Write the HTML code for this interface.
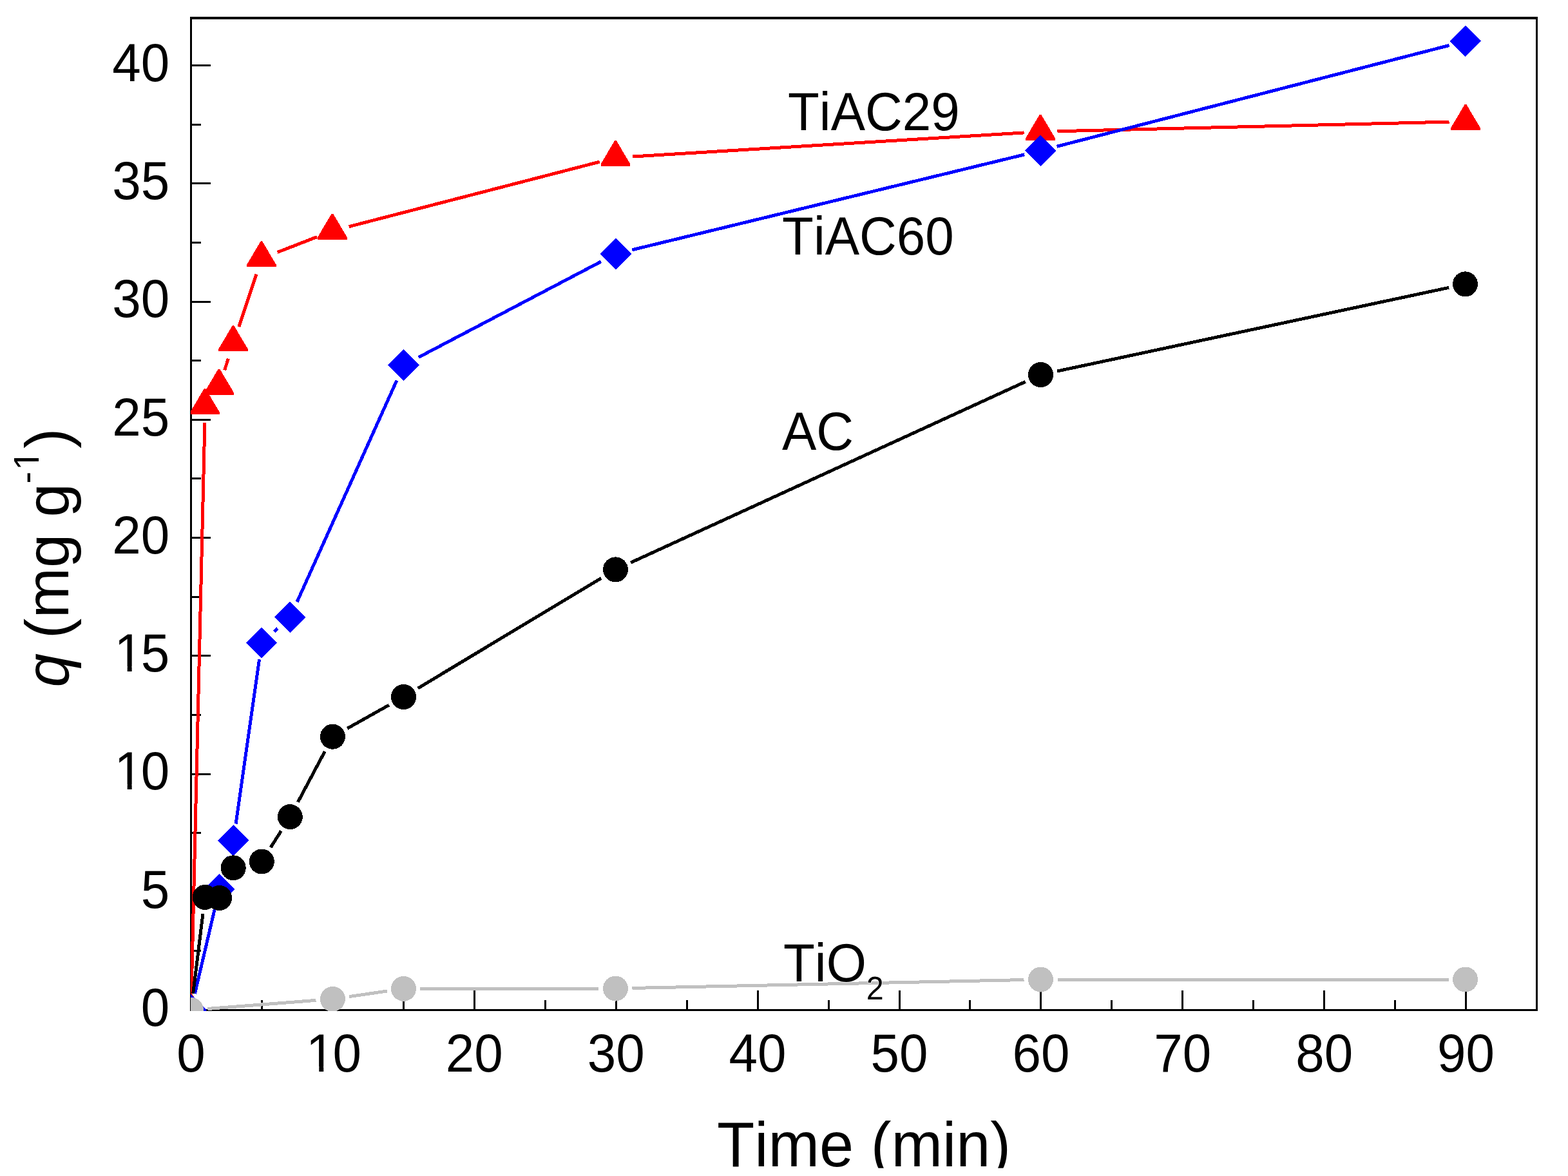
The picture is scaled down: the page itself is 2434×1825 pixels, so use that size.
<!DOCTYPE html>
<html><head><meta charset="utf-8"><title>q vs time</title>
<style>
html,body{margin:0;padding:0;background:#fff;}
body{width:2434px;height:1825px;overflow:hidden;}
svg{display:block;}
text{font-family:"Liberation Sans",Arial,sans-serif;fill:#000;font-kerning:none;}
</style></head>
<body>
<svg width="2434" height="1825" viewBox="0 0 2434 1825">
<defs>
<clipPath id="plot"><rect x="296" y="26" width="2091.55" height="1543"/></clipPath>
<clipPath id="xclip"><rect x="0" y="0" width="2434" height="1812.7"/></clipPath>
</defs>
<rect x="0" y="0" width="2434" height="1825" fill="#fff"/>
<g fill="#000" shape-rendering="crispEdges">
<rect x="295" y="26" width="3" height="1543"/><rect x="2384" y="26" width="3" height="1543"/>
<rect x="295" y="26" width="2092" height="4"/><rect x="295" y="1566" width="2092" height="3"/>
</g>
<g fill="none" stroke="#000" stroke-width="3" shape-rendering="crispEdges">
<path d="M296.5 1567.5H327M296.5 1475.88H312M296.5 1384.25H327M296.5 1292.62H312M296.5 1201H327M296.5 1109.38H312M296.5 1017.75H327M296.5 926.12H312M296.5 834.5H327M296.5 742.88H312M296.5 651.25H327M296.5 559.62H312M296.5 468H327M296.5 376.38H312M296.5 284.75H327M296.5 193.12H312M296.5 101.5H327M296.5 1567.5V1537M406.45 1567.5V1552M516.4 1567.5V1537M626.35 1567.5V1552M736.3 1567.5V1537M846.25 1567.5V1552M956.2 1567.5V1537M1066.15 1567.5V1552M1176.1 1567.5V1537M1286.05 1567.5V1552M1396 1567.5V1537M1505.95 1567.5V1552M1615.9 1567.5V1537M1725.85 1567.5V1552M1835.8 1567.5V1537M1945.75 1567.5V1552M2055.7 1567.5V1537M2165.65 1567.5V1552M2275.6 1567.5V1537"/>
</g>
<g font-size="80"><text transform="translate(263.3 1591.8) scale(1 1.045)"><tspan x="-44.49">0</tspan></text><text transform="translate(263.3 1408.55) scale(1 1.045)"><tspan x="-44.49">5</tspan></text><text transform="translate(263.3 1225.3) scale(1 1.045)"><tspan x="-85.78">1</tspan><tspan x="-44.49">0</tspan></text><text transform="translate(263.3 1042.05) scale(1 1.045)"><tspan x="-85.78">1</tspan><tspan x="-44.49">5</tspan></text><text transform="translate(263.3 858.8) scale(1 1.045)"><tspan x="-88.98">2</tspan><tspan x="-44.49">0</tspan></text><text transform="translate(263.3 675.55) scale(1 1.045)"><tspan x="-88.98">2</tspan><tspan x="-44.49">5</tspan></text><text transform="translate(263.3 492.3) scale(1 1.045)"><tspan x="-88.98">3</tspan><tspan x="-44.49">0</tspan></text><text transform="translate(263.3 309.05) scale(1 1.045)"><tspan x="-88.98">3</tspan><tspan x="-44.49">5</tspan></text><text transform="translate(263.3 125.8) scale(1 1.045)"><tspan x="-88.98">4</tspan><tspan x="-44.49">0</tspan></text></g>
<g font-size="80"><text transform="translate(296.5 1663) scale(1 1.045)"><tspan x="-22.25">0</tspan></text><text transform="translate(516.4 1663) scale(1 1.045)"><tspan x="-41.29">1</tspan><tspan x="0">0</tspan></text><text transform="translate(736.3 1663) scale(1 1.045)"><tspan x="-44.49">2</tspan><tspan x="0">0</tspan></text><text transform="translate(956.2 1663) scale(1 1.045)"><tspan x="-44.49">3</tspan><tspan x="0">0</tspan></text><text transform="translate(1176.1 1663) scale(1 1.045)"><tspan x="-44.49">4</tspan><tspan x="0">0</tspan></text><text transform="translate(1396 1663) scale(1 1.045)"><tspan x="-44.49">5</tspan><tspan x="0">0</tspan></text><text transform="translate(1615.9 1663) scale(1 1.045)"><tspan x="-44.49">6</tspan><tspan x="0">0</tspan></text><text transform="translate(1835.8 1663) scale(1 1.045)"><tspan x="-44.49">7</tspan><tspan x="0">0</tspan></text><text transform="translate(2055.7 1663) scale(1 1.045)"><tspan x="-44.49">8</tspan><tspan x="0">0</tspan></text><text transform="translate(2275.6 1663) scale(1 1.045)"><tspan x="-44.49">9</tspan><tspan x="0">0</tspan></text></g>
<g fill="#fff"><rect x="182.78" y="1217.22" width="14.91" height="8.73"/><rect x="204.65" y="1217.22" width="14.28" height="8.73"/><rect x="182.78" y="1033.97" width="14.91" height="8.73"/><rect x="204.65" y="1033.97" width="14.28" height="8.73"/><rect x="480.37" y="1654.92" width="14.91" height="8.73"/><rect x="502.25" y="1654.92" width="14.28" height="8.73"/></g>
<g clip-path="url(#xclip)"><text transform="translate(1341 1810) scale(1 1.026)" font-size="95.5" text-anchor="middle">Time (min)</text></g>
<text transform="translate(106.2 1100) rotate(-90)" font-size="94"><tspan x="33.45" font-style="italic">q</tspan> <tspan x="109.1">(</tspan><tspan x="140.8">mg g</tspan><tspan x="349.6" font-size="56" dy="-46">-</tspan><tspan x="370.0" font-size="56">1</tspan><tspan x="404" dy="46">)</tspan></text>
<g transform="translate(106.2 1100) rotate(-90)" fill="#fff"><rect x="373.6" y="-51.77" width="10.48" height="6.28"/><rect x="389.03" y="-51.77" width="10.14" height="6.28"/></g>
<g clip-path="url(#plot)" shape-rendering="crispEdges">
<path d="M297.11 1541.51L317.89 655.79M348.57 574.48L354.43 556.52M370.77 507.15L398.13 425.55M430.64 391.49L492.16 367.61M541.57 351.69L930.83 251.11M981.95 243.02L1589.55 205.93M1641.49 203.73L2249.51 189.12" fill="none" stroke="#f00" stroke-width="5.0"/>
<g fill="#f00"><path d="M294.7 1541L297.3 1541L318.9 1577.5L318.9 1580.9L273.1 1580.9L273.1 1577.5Z"/><path d="M316.7 603.3L319.3 603.3L340.9 639.8L340.9 643.2L295.1 643.2L295.1 639.8Z"/><path d="M338.7 572.7L341.3 572.7L362.9 609.2L362.9 612.6L317.1 612.6L317.1 609.2Z"/><path d="M360.7 505.3L363.3 505.3L384.9 541.8L384.9 545.2L339.1 545.2L339.1 541.8Z"/><path d="M404.6 374.4L407.2 374.4L428.8 410.9L428.8 414.3L383 414.3L383 410.9Z"/><path d="M514.6 331.7L517.2 331.7L538.8 368.2L538.8 371.6L493 371.6L493 368.2Z"/><path d="M954.2 218.1L956.8 218.1L978.4 254.6L978.4 258L932.6 258L932.6 254.6Z"/><path d="M1613.7 177.85L1616.3 177.85L1637.9 214.35L1637.9 217.75L1592.1 217.75L1592.1 214.35Z"/><path d="M2273.7 162L2276.3 162L2297.9 198.5L2297.9 201.9L2252.1 201.9L2252.1 198.5Z"/></g>
<path d="M302.44 1542.19L334.56 1405.31M347.73 1355.02L355.17 1329.28M366.07 1278.56L402.53 1023.24M425.54 980.13L431.06 975.17M461.08 934.09L615.92 590.31M649.63 554.53L932.97 405.97M981.27 387.76L1590.13 239.89M1640.58 227.27L2249.72 70.38" fill="none" stroke="#00f" stroke-width="5.0"/>
<g fill="#00f"><path d="M296.5 1543.3L320.7 1567.5L296.5 1591.7L272.3 1567.5Z"/><path d="M340.5 1355.8L364.7 1380L340.5 1404.2L316.3 1380Z"/><path d="M362.4 1280.1L386.6 1304.3L362.4 1328.5L338.2 1304.3Z"/><path d="M406.2 973.3L430.4 997.5L406.2 1021.7L382 997.5Z"/><path d="M450.4 933.6L474.6 957.8L450.4 982L426.2 957.8Z"/><path d="M626.6 542.4L650.8 566.6L626.6 590.8L602.4 566.6Z"/><path d="M956 369.7L980.2 393.9L956 418.1L931.8 393.9Z"/><path d="M1615.4 209.55L1639.6 233.75L1615.4 257.95L1591.2 233.75Z"/><path d="M2274.9 39.7L2299.1 63.9L2274.9 88.1L2250.7 63.9Z"/></g>
<path d="M299.7 1541.7L315 1418.2M420.22 1315.04L436.38 1289.56M462.5 1244.64L504.2 1166.16M539.08 1130.48L603.82 1094.17M648.79 1068.07L933.21 897.28M979.14 873.07L1591.86 592.33M1640.93 576.07L2249.07 446.33" fill="none" stroke="#000" stroke-width="5.0"/>
<g fill="#000"><circle cx="296.5" cy="1567.5" r="19.5"/><circle cx="318.2" cy="1392.4" r="19.5"/><circle cx="340.5" cy="1393.5" r="19.5"/><circle cx="362.2" cy="1346.8" r="19.5"/><circle cx="406.3" cy="1337" r="19.5"/><circle cx="450.3" cy="1267.6" r="19.5"/><circle cx="516.4" cy="1143.2" r="19.5"/><circle cx="626.5" cy="1081.45" r="19.5"/><circle cx="955.5" cy="883.9" r="19.5"/><circle cx="1615.5" cy="581.5" r="19.5"/><circle cx="2274.5" cy="440.9" r="19.5"/></g>
<path d="M322.42 1565.48L490.48 1552.37M542.13 1546.6L600.77 1538.05M652.5 1534.28L929.5 1534.02M981.49 1533.45L1589.51 1520.55M1641.5 1520L2248.6 1520" fill="none" stroke="#c0c0c0" stroke-width="5.0"/>
<g fill="#c0c0c0"><circle cx="296.5" cy="1567.5" r="19.5"/><circle cx="516.4" cy="1550.35" r="19.5"/><circle cx="626.5" cy="1534.3" r="19.5"/><circle cx="955.5" cy="1534" r="19.5"/><circle cx="1615.5" cy="1520" r="19.5"/><circle cx="2274.6" cy="1520" r="19.5"/></g>
</g>
<g font-size="80">
<text transform="translate(1223 201.7) scale(1 1.033)">TiAC29</text>
<text transform="translate(1214.1 394.9) scale(1 1.033)">TiAC60</text>
<text transform="translate(1214 697.8) scale(1 1.033)">AC</text>
<text transform="translate(1216 1522.7) scale(1 1.033)" stroke="#fff" stroke-width="1.6" paint-order="stroke" stroke-linejoin="round">TiO<tspan font-size="48.6" dy="27.2">2</tspan></text>
</g>
</svg>
</body></html>
